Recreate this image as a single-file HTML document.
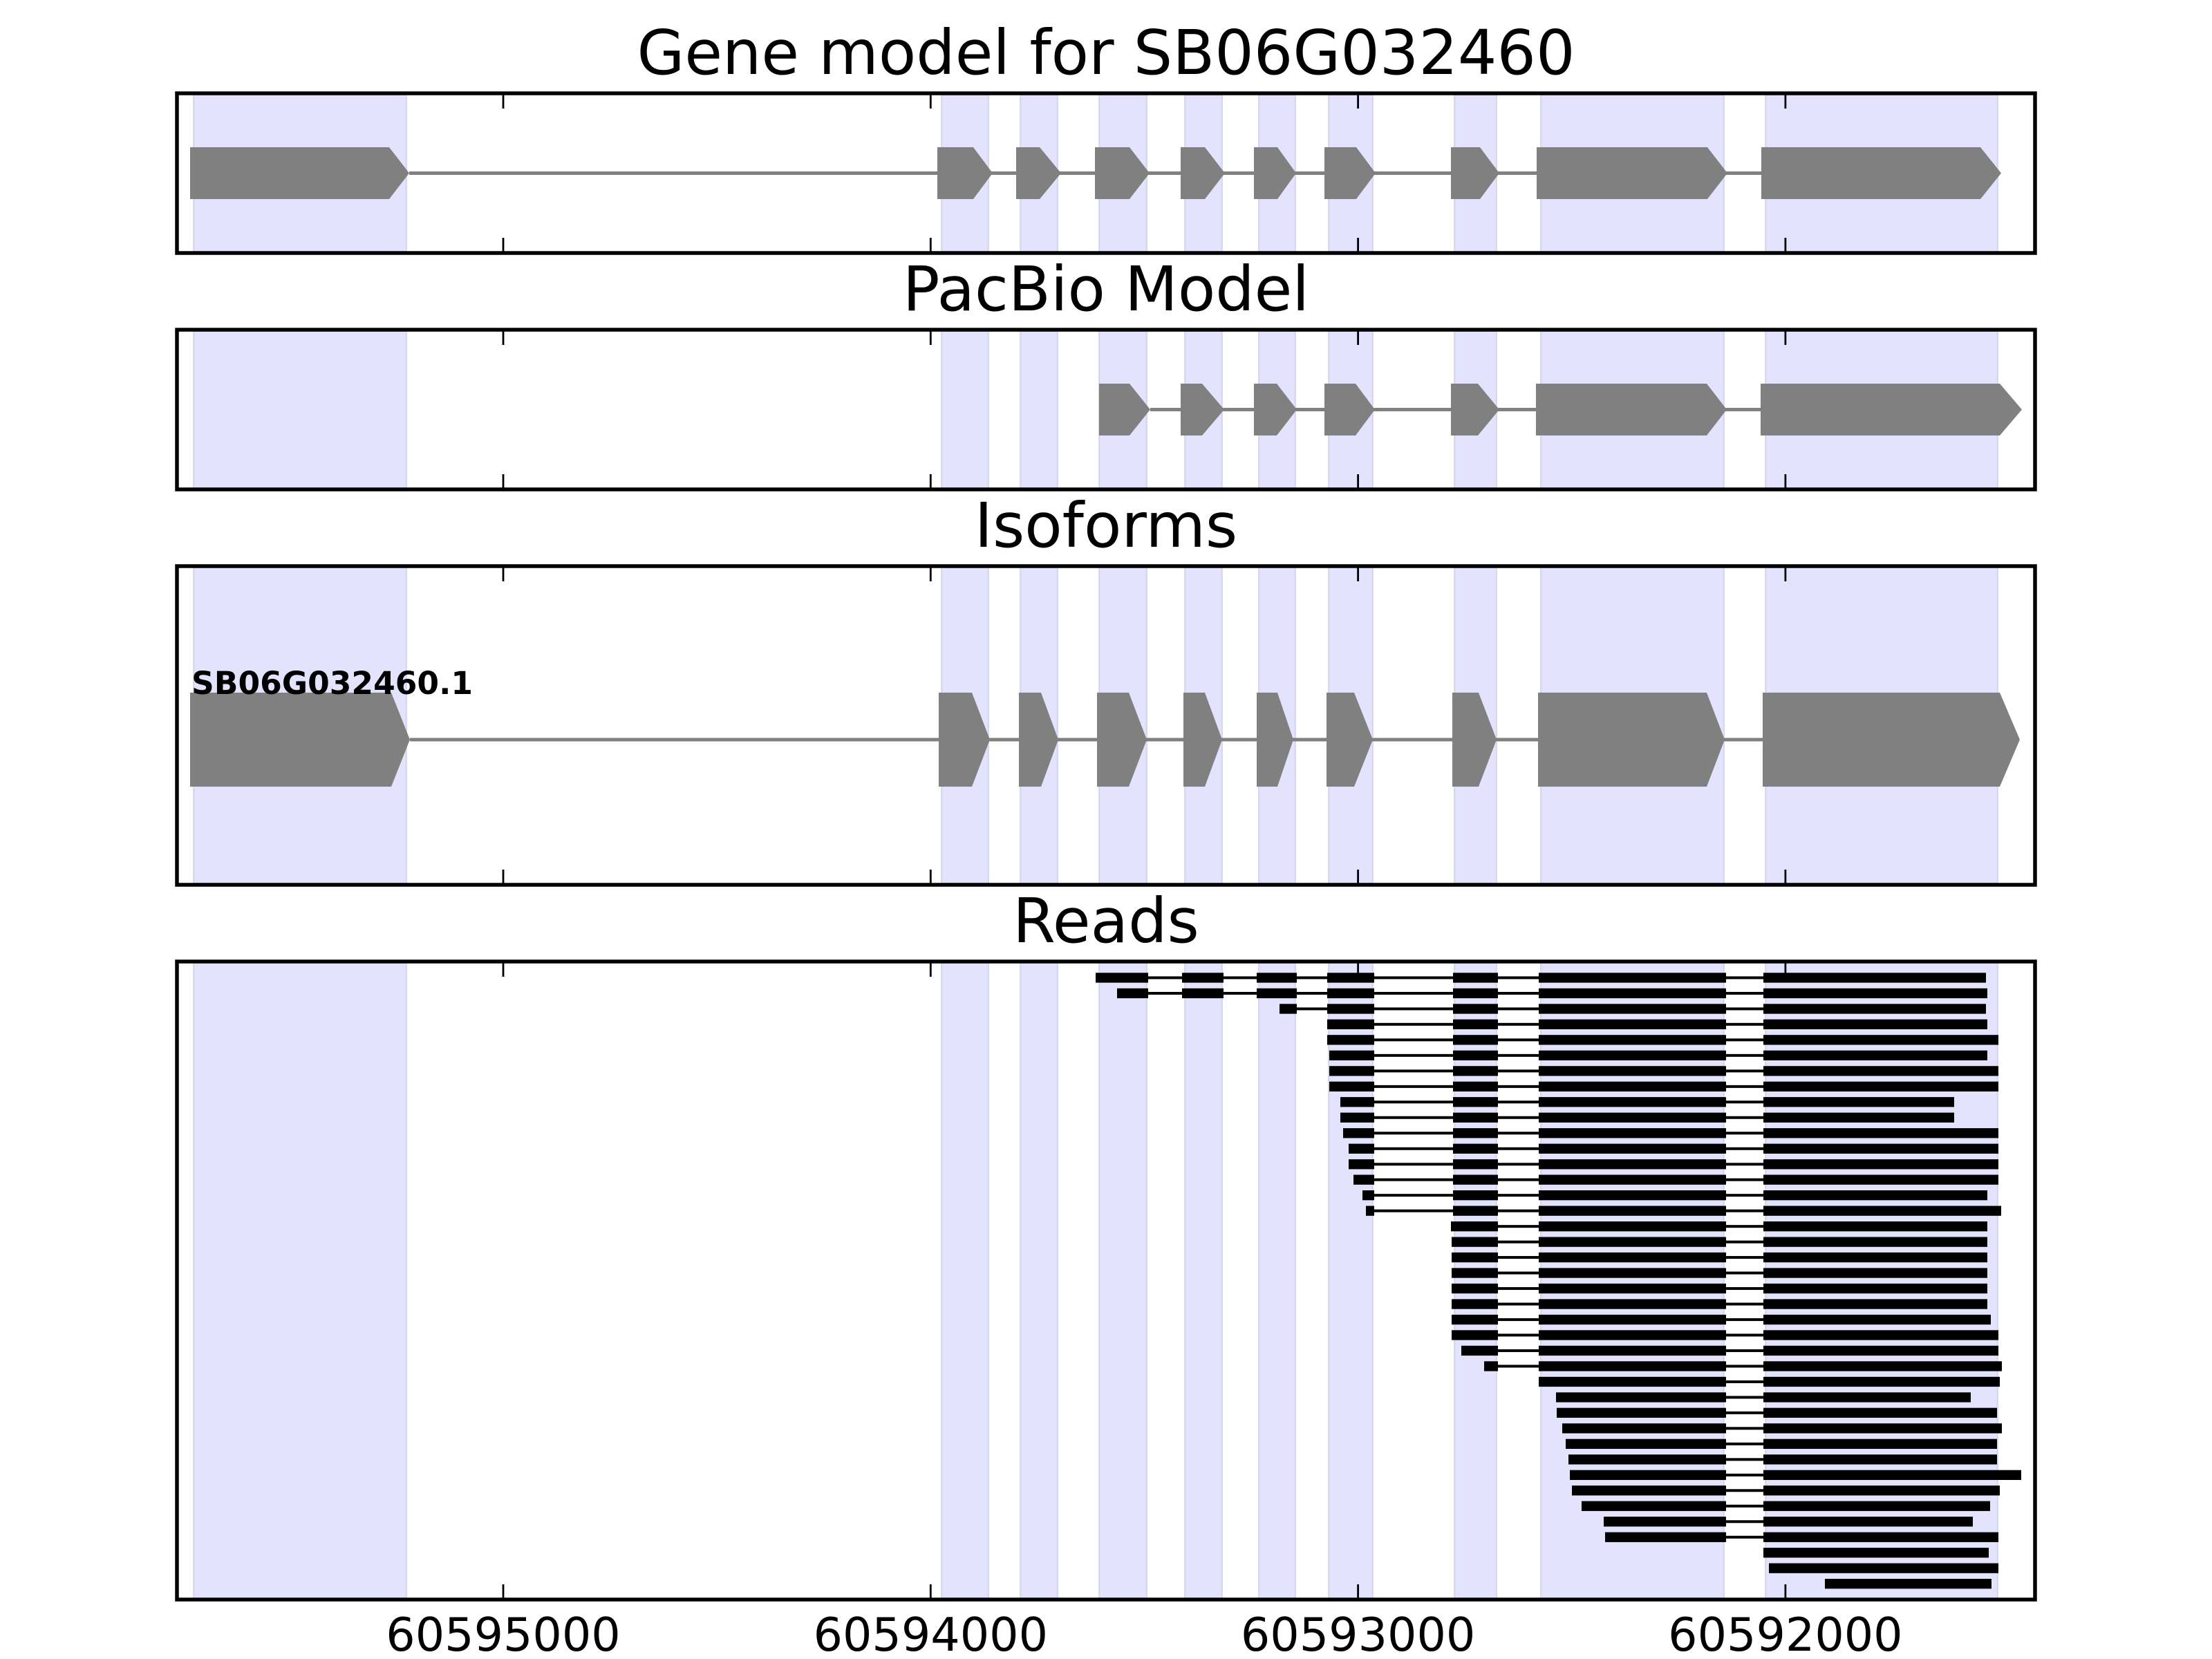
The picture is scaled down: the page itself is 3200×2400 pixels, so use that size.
<!DOCTYPE html>
<html>
<head>
<meta charset="utf-8">
<style>
  html, body { margin: 0; padding: 0; background: #ffffff; }
  svg { display: block; }
  text { font-family: "DejaVu Sans", "Liberation Sans", sans-serif; fill: #000; }
</style>
</head>
<body>
<svg width="3200" height="2400" viewBox="0 0 3200 2400" xmlns="http://www.w3.org/2000/svg">
  <defs>
    <g id="bandfill">
      <rect x="280" y="0" width="308" height="1"/>
      <rect x="1362" y="0" width="68" height="1"/>
      <rect x="1476" y="0" width="54" height="1"/>
      <rect x="1590" y="0" width="69" height="1"/>
      <rect x="1714" y="0" width="54" height="1"/>
      <rect x="1821" y="0" width="53" height="1"/>
      <rect x="1922" y="0" width="64" height="1"/>
      <rect x="2104" y="0" width="61" height="1"/>
      <rect x="2229" y="0" width="265" height="1"/>
      <rect x="2554" y="0" width="336" height="1"/>
    </g>
    <g id="bandedge">
      <rect x="279" y="0" width="2.5" height="1"/><rect x="586.5" y="0" width="2.5" height="1"/>
      <rect x="1361" y="0" width="2.5" height="1"/><rect x="1428.5" y="0" width="2.5" height="1"/>
      <rect x="1475" y="0" width="2.5" height="1"/><rect x="1528.5" y="0" width="2.5" height="1"/>
      <rect x="1589" y="0" width="2.5" height="1"/><rect x="1657.5" y="0" width="2.5" height="1"/>
      <rect x="1713" y="0" width="2.5" height="1"/><rect x="1766.5" y="0" width="2.5" height="1"/>
      <rect x="1820" y="0" width="2.5" height="1"/><rect x="1872.5" y="0" width="2.5" height="1"/>
      <rect x="1921" y="0" width="2.5" height="1"/><rect x="1984.5" y="0" width="2.5" height="1"/>
      <rect x="2103" y="0" width="2.5" height="1"/><rect x="2163.5" y="0" width="2.5" height="1"/>
      <rect x="2228" y="0" width="2.5" height="1"/><rect x="2492.5" y="0" width="2.5" height="1"/>
      <rect x="2553" y="0" width="2.5" height="1"/><rect x="2888.5" y="0" width="2.5" height="1"/>
    </g>
    <g id="ticksTop" stroke="#000" stroke-width="2.8">
      <line x1="728" y1="0" x2="728" y2="22"/>
      <line x1="1346.3" y1="0" x2="1346.3" y2="22"/>
      <line x1="1964.6" y1="0" x2="1964.6" y2="22"/>
      <line x1="2582.9" y1="0" x2="2582.9" y2="22"/>
    </g>
    <g id="ticksBot" stroke="#000" stroke-width="2.8">
      <line x1="728" y1="-22" x2="728" y2="0"/>
      <line x1="1346.3" y1="-22" x2="1346.3" y2="0"/>
      <line x1="1964.6" y1="-22" x2="1964.6" y2="0"/>
      <line x1="2582.9" y1="-22" x2="2582.9" y2="0"/>
    </g>
    <g id="A">
      <rect x="2102" y="0" width="65" height="14.3"/>
      <rect x="2226" y="0" width="271" height="14.3"/>
    </g>
    <rect id="B" x="2226" y="0" width="271" height="14.3"/>
  </defs>

  <rect x="0" y="0" width="3200" height="2400" fill="#ffffff"/>

  <!-- Bands -->
  <g fill="#E3E3FE">
    <use href="#bandfill" transform="translate(0,135) scale(1,231)"/>
    <use href="#bandfill" transform="translate(0,477) scale(1,231)"/>
    <use href="#bandfill" transform="translate(0,819) scale(1,461)"/>
    <use href="#bandfill" transform="translate(0,1391) scale(1,923)"/>
  </g>
  <g fill="#D8D8F0">
    <use href="#bandedge" transform="translate(0,135) scale(1,231)"/>
    <use href="#bandedge" transform="translate(0,477) scale(1,231)"/>
    <use href="#bandedge" transform="translate(0,819) scale(1,461)"/>
    <use href="#bandedge" transform="translate(0,1391) scale(1,923)"/>
  </g>

  <!-- Panel 1: Gene model -->
  <line x1="592" y1="250.5" x2="2548" y2="250.5" stroke="#808080" stroke-width="5"/>
  <g fill="#808080">
    <polygon points="275,213 563,213 592,250.5 563,288 275,288"/>
    <polygon points="1356,213 1408,213 1436,250.5 1408,288 1356,288"/>
    <polygon points="1470,213 1504,213 1535,250.5 1504,288 1470,288"/>
    <polygon points="1584,213 1634,213 1663,250.5 1634,288 1584,288"/>
    <polygon points="1708,213 1743,213 1772,250.5 1743,288 1708,288"/>
    <polygon points="1814,213 1848,213 1875,250.5 1848,288 1814,288"/>
    <polygon points="1916,213 1962,213 1990,250.5 1962,288 1916,288"/>
    <polygon points="2099,213 2141,213 2169,250.5 2141,288 2099,288"/>
    <polygon points="2223,213 2470,213 2499,250.5 2470,288 2223,288"/>
    <polygon points="2548,213 2865,213 2895,250.5 2865,288 2548,288"/>
  </g>

  <!-- Panel 2: PacBio -->
  <line x1="1664" y1="592.5" x2="2547" y2="592.5" stroke="#808080" stroke-width="5"/>
  <g fill="#808080">
    <polygon points="1590,555 1634,555 1664,592.5 1634,630 1590,630"/>
    <polygon points="1708,555 1739,555 1771,592.5 1739,630 1708,630"/>
    <polygon points="1814,555 1847,555 1876,592.5 1847,630 1814,630"/>
    <polygon points="1916,555 1961,555 1989,592.5 1961,630 1916,630"/>
    <polygon points="2099,555 2138,555 2169,592.5 2138,630 2099,630"/>
    <polygon points="2222,555 2469,555 2498,592.5 2469,630 2222,630"/>
    <polygon points="2547,555 2893,555 2925,592.5 2893,630 2547,630"/>
  </g>

  <!-- Panel 3: Isoforms -->
  <line x1="593" y1="1070" x2="2550" y2="1070" stroke="#808080" stroke-width="5"/>
  <g fill="#808080">
    <polygon points="275,1002 566,1002 593,1070 566,1138 275,1138"/>
    <polygon points="1358,1002 1406,1002 1432,1070 1406,1138 1358,1138"/>
    <polygon points="1474,1002 1506,1002 1531,1070 1506,1138 1474,1138"/>
    <polygon points="1587,1002 1633,1002 1659,1070 1633,1138 1587,1138"/>
    <polygon points="1712,1002 1743,1002 1768,1070 1743,1138 1712,1138"/>
    <polygon points="1818,1002 1848,1002 1871,1070 1848,1138 1818,1138"/>
    <polygon points="1919,1002 1959,1002 1986,1070 1959,1138 1919,1138"/>
    <polygon points="2101,1002 2139,1002 2165,1070 2139,1138 2101,1138"/>
    <polygon points="2225,1002 2469,1002 2495,1070 2469,1138 2225,1138"/>
    <polygon points="2550,1002 2893,1002 2922,1070 2893,1138 2550,1138"/>
  </g>
  <text x="277" y="1004" font-size="45.5" font-weight="bold">SB06G032460.1</text>

  <!-- Panel 4: Reads -->
  <g fill="#000">
    <g transform="translate(0,1407.3)"><rect x="1585" y="5.15" width="1288" height="4"/><rect x="1585" y="0" width="76" height="14.3"/><rect x="1710" y="0" width="60" height="14.3"/><rect x="1818" y="0" width="58" height="14.3"/><rect x="1920" y="0" width="68" height="14.3"/><use href="#A"/><rect x="2551" y="0" width="322" height="14.3"/></g>
    <g transform="translate(0,1429.8)"><rect x="1616" y="5.15" width="1259" height="4"/><rect x="1616" y="0" width="45" height="14.3"/><rect x="1710" y="0" width="60" height="14.3"/><rect x="1818" y="0" width="58" height="14.3"/><rect x="1920" y="0" width="68" height="14.3"/><use href="#A"/><rect x="2551" y="0" width="324" height="14.3"/></g>
    <g transform="translate(0,1452.3)"><rect x="1851" y="5.15" width="1022" height="4"/><rect x="1851" y="0" width="25" height="14.3"/><rect x="1920" y="0" width="68" height="14.3"/><use href="#A"/><rect x="2551" y="0" width="322" height="14.3"/></g>
    <g transform="translate(0,1474.7)"><rect x="1920" y="5.15" width="955" height="4"/><rect x="1920" y="0" width="68" height="14.3"/><use href="#A"/><rect x="2551" y="0" width="324" height="14.3"/></g>
    <g transform="translate(0,1497.2)"><rect x="1920" y="5.15" width="971" height="4"/><rect x="1920" y="0" width="68" height="14.3"/><use href="#A"/><rect x="2551" y="0" width="340" height="14.3"/></g>
    <g transform="translate(0,1519.7)"><rect x="1923" y="5.15" width="952" height="4"/><rect x="1923" y="0" width="65" height="14.3"/><use href="#A"/><rect x="2551" y="0" width="324" height="14.3"/></g>
    <g transform="translate(0,1542.2)"><rect x="1923" y="5.15" width="968" height="4"/><rect x="1923" y="0" width="65" height="14.3"/><use href="#A"/><rect x="2551" y="0" width="340" height="14.3"/></g>
    <g transform="translate(0,1564.7)"><rect x="1923" y="5.15" width="968" height="4"/><rect x="1923" y="0" width="65" height="14.3"/><use href="#A"/><rect x="2551" y="0" width="340" height="14.3"/></g>
    <g transform="translate(0,1587.1)"><rect x="1939" y="5.15" width="888" height="4"/><rect x="1939" y="0" width="49" height="14.3"/><use href="#A"/><rect x="2551" y="0" width="276" height="14.3"/></g>
    <g transform="translate(0,1609.6)"><rect x="1939" y="5.15" width="888" height="4"/><rect x="1939" y="0" width="49" height="14.3"/><use href="#A"/><rect x="2551" y="0" width="276" height="14.3"/></g>
    <g transform="translate(0,1632.1)"><rect x="1943" y="5.15" width="948" height="4"/><rect x="1943" y="0" width="45" height="14.3"/><use href="#A"/><rect x="2551" y="0" width="340" height="14.3"/></g>
    <g transform="translate(0,1654.6)"><rect x="1951" y="5.15" width="940" height="4"/><rect x="1951" y="0" width="37" height="14.3"/><use href="#A"/><rect x="2551" y="0" width="340" height="14.3"/></g>
    <g transform="translate(0,1677.1)"><rect x="1951" y="5.15" width="940" height="4"/><rect x="1951" y="0" width="37" height="14.3"/><use href="#A"/><rect x="2551" y="0" width="340" height="14.3"/></g>
    <g transform="translate(0,1699.5)"><rect x="1958" y="5.15" width="933" height="4"/><rect x="1958" y="0" width="30" height="14.3"/><use href="#A"/><rect x="2551" y="0" width="340" height="14.3"/></g>
    <g transform="translate(0,1722.0)"><rect x="1971" y="5.15" width="904" height="4"/><rect x="1971" y="0" width="17" height="14.3"/><use href="#A"/><rect x="2551" y="0" width="324" height="14.3"/></g>
    <g transform="translate(0,1744.5)"><rect x="1976" y="5.15" width="919" height="4"/><rect x="1976" y="0" width="12" height="14.3"/><use href="#A"/><rect x="2551" y="0" width="344" height="14.3"/></g>
    <g transform="translate(0,1767.0)"><rect x="2099" y="5.15" width="776" height="4"/><rect x="2099" y="0" width="68" height="14.3"/><use href="#B"/><rect x="2551" y="0" width="324" height="14.3"/></g>
    <g transform="translate(0,1789.5)"><rect x="2100" y="5.15" width="775" height="4"/><rect x="2100" y="0" width="67" height="14.3"/><use href="#B"/><rect x="2551" y="0" width="324" height="14.3"/></g>
    <g transform="translate(0,1811.9)"><rect x="2100" y="5.15" width="775" height="4"/><rect x="2100" y="0" width="67" height="14.3"/><use href="#B"/><rect x="2551" y="0" width="324" height="14.3"/></g>
    <g transform="translate(0,1834.4)"><rect x="2100" y="5.15" width="775" height="4"/><rect x="2100" y="0" width="67" height="14.3"/><use href="#B"/><rect x="2551" y="0" width="324" height="14.3"/></g>
    <g transform="translate(0,1856.9)"><rect x="2100" y="5.15" width="775" height="4"/><rect x="2100" y="0" width="67" height="14.3"/><use href="#B"/><rect x="2551" y="0" width="324" height="14.3"/></g>
    <g transform="translate(0,1879.4)"><rect x="2100" y="5.15" width="775" height="4"/><rect x="2100" y="0" width="67" height="14.3"/><use href="#B"/><rect x="2551" y="0" width="324" height="14.3"/></g>
    <g transform="translate(0,1901.9)"><rect x="2100" y="5.15" width="780" height="4"/><rect x="2100" y="0" width="67" height="14.3"/><use href="#B"/><rect x="2551" y="0" width="329" height="14.3"/></g>
    <g transform="translate(0,1924.3)"><rect x="2100" y="5.15" width="791" height="4"/><rect x="2100" y="0" width="67" height="14.3"/><use href="#B"/><rect x="2551" y="0" width="340" height="14.3"/></g>
    <g transform="translate(0,1946.8)"><rect x="2114" y="5.15" width="777" height="4"/><rect x="2114" y="0" width="53" height="14.3"/><use href="#B"/><rect x="2551" y="0" width="340" height="14.3"/></g>
    <g transform="translate(0,1969.3)"><rect x="2147" y="5.15" width="749" height="4"/><rect x="2147" y="0" width="20" height="14.3"/><use href="#B"/><rect x="2551" y="0" width="345" height="14.3"/></g>
    <g transform="translate(0,1991.8)"><rect x="2226" y="5.15" width="667" height="4"/><rect x="2226" y="0" width="271" height="14.3"/><rect x="2551" y="0" width="342" height="14.3"/></g>
    <g transform="translate(0,2014.3)"><rect x="2251" y="5.15" width="600" height="4"/><rect x="2251" y="0" width="246" height="14.3"/><rect x="2551" y="0" width="300" height="14.3"/></g>
    <g transform="translate(0,2036.7)"><rect x="2252" y="5.15" width="637" height="4"/><rect x="2252" y="0" width="245" height="14.3"/><rect x="2551" y="0" width="338" height="14.3"/></g>
    <g transform="translate(0,2059.2)"><rect x="2260" y="5.15" width="636" height="4"/><rect x="2260" y="0" width="237" height="14.3"/><rect x="2551" y="0" width="345" height="14.3"/></g>
    <g transform="translate(0,2081.7)"><rect x="2265" y="5.15" width="624" height="4"/><rect x="2265" y="0" width="232" height="14.3"/><rect x="2551" y="0" width="338" height="14.3"/></g>
    <g transform="translate(0,2104.2)"><rect x="2269" y="5.15" width="620" height="4"/><rect x="2269" y="0" width="228" height="14.3"/><rect x="2551" y="0" width="338" height="14.3"/></g>
    <g transform="translate(0,2126.7)"><rect x="2271" y="5.15" width="653" height="4"/><rect x="2271" y="0" width="226" height="14.3"/><rect x="2551" y="0" width="373" height="14.3"/></g>
    <g transform="translate(0,2149.1)"><rect x="2274" y="5.15" width="619" height="4"/><rect x="2274" y="0" width="223" height="14.3"/><rect x="2551" y="0" width="342" height="14.3"/></g>
    <g transform="translate(0,2171.6)"><rect x="2288" y="5.15" width="591" height="4"/><rect x="2288" y="0" width="209" height="14.3"/><rect x="2551" y="0" width="328" height="14.3"/></g>
    <g transform="translate(0,2194.1)"><rect x="2320" y="5.15" width="534" height="4"/><rect x="2320" y="0" width="177" height="14.3"/><rect x="2551" y="0" width="303" height="14.3"/></g>
    <g transform="translate(0,2216.6)"><rect x="2322" y="5.15" width="569" height="4"/><rect x="2322" y="0" width="175" height="14.3"/><rect x="2551" y="0" width="340" height="14.3"/></g>
    <g transform="translate(0,2239.1)"><rect x="2551" y="0" width="326" height="14.3"/></g>
    <g transform="translate(0,2261.5)"><rect x="2559" y="0" width="332" height="14.3"/></g>
    <g transform="translate(0,2284.0)"><rect x="2640" y="0" width="241" height="14.3"/></g>
  </g>

  <!-- Axes frames -->
  <g fill="none" stroke="#000" stroke-width="5.5">
    <rect x="256" y="135" width="2688" height="231"/>
    <rect x="256" y="477" width="2688" height="231"/>
    <rect x="256" y="819" width="2688" height="461"/>
    <rect x="256" y="1391" width="2688" height="923"/>
  </g>

  <!-- Ticks -->
  <use href="#ticksTop" transform="translate(0,135)"/>
  <use href="#ticksBot" transform="translate(0,366)"/>
  <use href="#ticksTop" transform="translate(0,477)"/>
  <use href="#ticksBot" transform="translate(0,708)"/>
  <use href="#ticksTop" transform="translate(0,819)"/>
  <use href="#ticksBot" transform="translate(0,1280)"/>
  <use href="#ticksTop" transform="translate(0,1391)"/>
  <use href="#ticksBot" transform="translate(0,2314)"/>

  <!-- Titles -->
  <g font-size="88.9" text-anchor="middle">
    <text x="1600" y="107">Gene model for SB06G032460</text>
    <text x="1600" y="449">PacBio Model</text>
    <text x="1600" y="791">Isoforms</text>
    <text x="1600" y="1363">Reads</text>
  </g>

  <!-- Tick labels -->
  <g font-size="66.7" text-anchor="middle">
    <text x="728" y="2388">60595000</text>
    <text x="1346.3" y="2388">60594000</text>
    <text x="1964.6" y="2388">60593000</text>
    <text x="2582.9" y="2388">60592000</text>
  </g>
</svg>
</body>
</html>
